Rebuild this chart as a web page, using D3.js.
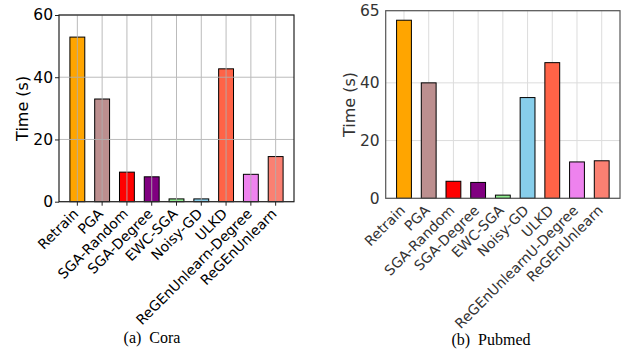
<!DOCTYPE html>
<html>
<head>
<meta charset="utf-8">
<script src="https://cdn.jsdelivr.net/npm/d3@7"></script>
<style>
  body { margin: 0; background: #fff; }
</style>
</head>
<body>
<script>
// data
var coraMethods = ['Retrain', 'PGA', 'SGA-Random', 'SGA-Degree', 'EWC-SGA', 'Noisy-GD', 'ULKD', 'ReGEnUnlearn-Degree', 'ReGEnUnlearn'];
var pubmedMethods = ['Retrain', 'PGA', 'SGA-Random', 'SGA-Degree', 'EWC-SGA', 'Noisy-GD', 'ULKD', 'ReGEnUnlearnU-Degree', 'ReGEnUnlearn'];
var coraTimes = [52.9, 33.0, 9.5, 8.0, 0.9, 0.9, 42.7, 8.8, 14.5];
var pubmedTimes = [61.7, 40.0, 5.9, 5.5, 1.1, 34.9, 47.0, 12.6, 13.0];
var barColors = ['orange', 'rosybrown', 'red', 'purple', 'lightgreen', 'skyblue', 'tomato', 'violet', 'salmon'];
var coraTicks = [0, 20, 40, 60];
var pubmedTicks = [0, 20, 40, 65];

var width = 625, height = 353;
var svg = d3.select('body').append('svg')
  .attr('width', width)
  .attr('height', height)
  .style('font-family', '"DejaVu Sans", sans-serif');

function drawPanel(opt) {
  var g = svg.append('g');
  var x = d3.scaleBand()
    .domain(opt.methods)
    .range([opt.left, opt.right])
    .paddingInner(0.4)
    .paddingOuter(0.44);
  var y = d3.scaleLinear()
    .domain([0, opt.ymax])
    .range([opt.bottom, opt.top]);

  var grid = g.append('g');
  // vertical grid at each category
  grid.selectAll('line.vg').data(opt.methods).enter().append('line')
    .attr('x1', function(d){ return x(d) + x.bandwidth()/2; })
    .attr('x2', function(d){ return x(d) + x.bandwidth()/2; })
    .attr('y1', opt.top).attr('y2', opt.bottom)
    .attr('stroke', opt.gridColor).attr('stroke-width', 1);
  grid.selectAll('line.hg').data(opt.ticks).enter().append('line')
    .attr('x1', opt.left).attr('x2', opt.right)
    .attr('y1', function(d){ return y(d); })
    .attr('y2', function(d){ return y(d); })
    .attr('stroke', opt.gridColor).attr('stroke-width', 1);

  var bars = g.append('g');
  bars.selectAll('rect').data(opt.values).enter().append('rect')
    .attr('x', function(d, i){ return x(opt.methods[i]); })
    .attr('width', x.bandwidth())
    .attr('y', function(d){ return y(d); })
    .attr('height', function(d){ return y(0) - y(d); })
    .attr('fill', function(d, i){ return barColors[i]; })
    .attr('stroke', '#000')
    .attr('stroke-width', 1);

  if (opt.gridOnTop) grid.raise().attr('opacity', 0.85);

  // frame
  g.append('rect')
    .attr('x', opt.left).attr('y', opt.top)
    .attr('width', opt.right - opt.left).attr('height', opt.bottom - opt.top)
    .attr('fill', 'none').attr('stroke', opt.spineColor).attr('stroke-width', 1.2);

  var yAxis = d3.axisLeft(y)
    .tickValues(opt.ticks)
    .tickSize(opt.tickLen)
    .tickPadding(opt.tickLen > 0 ? 2 : 6);
  var ya = g.append('g')
    .attr('transform', 'translate(' + opt.left + ',0)')
    .call(yAxis);
  ya.select('.domain').remove();
  ya.selectAll('line').attr('stroke', opt.spineColor);
  ya.selectAll('text')
    .style('font-family', '"DejaVu Sans", sans-serif')
    .attr('font-size', 15.5)
    .attr('fill', opt.textColor);

  if (opt.tickLen > 0) {
    g.append('g').selectAll('line').data(opt.methods).enter().append('line')
      .attr('x1', function(d){ return x(d) + x.bandwidth()/2; })
      .attr('x2', function(d){ return x(d) + x.bandwidth()/2; })
      .attr('y1', opt.bottom).attr('y2', opt.bottom + opt.tickLen)
      .attr('stroke', opt.spineColor);
  }

  g.append('g').selectAll('text').data(opt.methods).enter().append('text')
    .attr('transform', function(d){
      return 'translate(' + (x(d) + x.bandwidth()/2 + 2) + ',' + (opt.bottom + 13) + ') rotate(-45)';
    })
    .attr('text-anchor', 'end')
    .attr('font-size', 14)
    .attr('fill', opt.textColor)
    .text(function(d){ return d; });

  g.append('text')
    .attr('transform', 'translate(' + opt.labelX + ',' + ((opt.top + opt.bottom)/2) + ') rotate(-90)')
    .attr('text-anchor', 'middle')
    .attr('font-size', 16)
    .attr('fill', opt.textColor)
    .text('Time (s)');

  g.append('text')
    .attr('x', opt.capX).attr('y', opt.capY)
    .attr('text-anchor', 'middle')
    .style('font-family', '"Liberation Serif", "DejaVu Serif", serif')
    .attr('font-size', 16)
    .attr('fill', '#000')
    .attr('xml:space', 'preserve')
    .text(opt.caption);
}

drawPanel({
  methods: coraMethods, values: coraTimes, ticks: coraTicks, ymax: 60,
  left: 59, right: 294, top: 15, bottom: 201.7,
  gridColor: '#b0b0b0', gridOnTop: true, spineColor: '#222', textColor: '#000',
  tickLen: 4, labelX: 28, caption: '(a)  Cora', capX: 152, capY: 343
});

drawPanel({
  methods: pubmedMethods, values: pubmedTimes, ticks: pubmedTicks, ymax: 65,
  left: 385.7, right: 620, top: 10.7, bottom: 198.3,
  gridColor: '#dcdcdc', gridOnTop: false, spineColor: '#555', textColor: '#333',
  tickLen: 0, labelX: 355, caption: '(b)  Pubmed', capX: 491, capY: 345
});
</script>
</body>
</html>
